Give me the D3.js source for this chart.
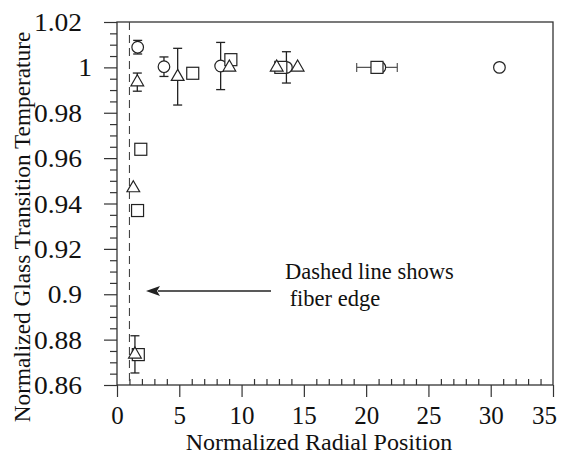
<!DOCTYPE html>
<html><head><meta charset="utf-8">
<script src="https://cdn.jsdelivr.net/npm/d3@7"></script>
<style>body{margin:0;background:#fff}svg{display:block}text{font-family:"Liberation Serif",serif;fill:#111}</style>
</head><body><svg id="c" width="565" height="454"></svg>
<script>
// ---- data ----
const circleX   = [1.66, 3.77, 8.32, 13.6, 21.1, 30.7];
const circleY   = [1.0089, 1.0003, 1.0006, 1.0, 1.0, 1.0];
const circleErr = [0.003, 0.0043, 0.0104, 0.0069, 0, 0];
const triX   = [1.63, 4.87, 9.02, 12.82, 14.5, 1.31, 1.44];
const triY   = [0.9935, 0.9959, 1.0, 1.0, 1.0, 0.9468, 0.8735];
const triErr = [0.004, 0.0125, 0, 0, 0, 0, 0.0082];
const sqX   = [1.91, 1.65, 1.71, 6.08, 9.14, 13.15, 20.87];
const sqY   = [0.9639, 0.9369, 0.8734, 0.9974, 1.0034, 1.0, 1.0];
const sqXErr = [0, 0, 0, 0, 0, 0, 1.63];
const xTicks = [0, 5, 10, 15, 20, 25, 30, 35];
const yTicks = [0.86, 0.88, 0.9, 0.92, 0.94, 0.96, 0.98, 1, 1.02];
const edgeX = 1;
const annotation = ["Dashed line shows", " fiber edge"];
const xTitle = "Normalized Radial Position";
const yTitle = "Normalized Glass Transition Temperature";

// ---- chart ----
const svg = d3.select("#c");
const L = 117, R = 553, T = 22, B = 385;
const x = d3.scaleLinear().domain([0, 35]).range([L, R]);
const y = d3.scaleLinear().domain([0.86, 1.02]).range([B, T]);
const ink = "#222";
const serif = "Liberation Serif";

// frame
svg.append("rect").attr("x", L).attr("y", T).attr("width", R - L).attr("height", B - T)
  .attr("fill", "none").attr("stroke", "#333").attr("stroke-width", 1.3);

// y axis
const yMinor = d3.range(0.86, 1.0201, 0.005).filter(v => !yTicks.some(t => Math.abs(t - v) < 1e-6));
const yMinAx = svg.append("g").attr("transform", `translate(${L},0)`)
  .call(d3.axisLeft(y).tickValues(yMinor).tickSize(7).tickFormat(""));
const yAx = svg.append("g").attr("transform", `translate(${L},0)`)
  .call(d3.axisLeft(y).tickValues(yTicks).tickSize(13).tickPadding(22).tickFormat(d => d3.format("~g")(d)));
// x axis
const xMinor = d3.range(0, 35.01, 1).filter(v => !xTicks.includes(v));
const xMinAx = svg.append("g").attr("transform", `translate(0,${B})`)
  .call(d3.axisTop(x).tickValues(xMinor).tickSize(6).tickFormat(""));
const xAx = svg.append("g").attr("transform", `translate(0,${B})`)
  .call(d3.axisBottom(x).tickValues(xTicks).tickSize(12).tickPadding(8));
[yMinAx, yAx, xMinAx, xAx].forEach(g => {
  g.attr("font-family", serif).attr("font-size", 25).attr("text-anchor", "start");
  g.select(".domain").remove();
  g.selectAll("line").attr("stroke", "#333").attr("stroke-width", 1.2);
  g.selectAll("text").attr("fill", "#111").style("font-family", serif)
    .style("font-size", "25px").style("text-anchor", "start");
});
yAx.selectAll("text").each(function (d) {
  const w = this.getComputedTextLength() * 1.1;
  this.setAttribute("textLength", w);
  this.setAttribute("lengthAdjust", "spacingAndGlyphs");
  const right = Math.abs(d - 1) < 1e-9 ? -25 : -35;
  this.setAttribute("x", right - w);
  this.setAttribute("dy", "0.34em");
});
xAx.selectAll("text").each(function (d) {
  const w = this.getComputedTextLength();
  this.setAttribute("x", (d === 35 ? -9 : 0) - w / 2);
  this.setAttribute("y", 39);
  this.removeAttribute("dy");
});

// titles
svg.append("text").attr("x", 319).attr("y", 450).attr("text-anchor", "middle")
  .attr("font-size", 24).text(xTitle);
svg.append("text").attr("transform", `translate(30,${(T + 432) / 2}) rotate(-90)`)
  .attr("text-anchor", "middle").attr("font-size", 23.3).text(yTitle);

// dashed fiber edge
svg.append("line").attr("x1", x(edgeX)).attr("x2", x(edgeX)).attr("y1", T).attr("y2", B)
  .attr("stroke", "#444").attr("stroke-width", 1.1).attr("stroke-dasharray", "8,5");

// annotation
svg.append("text").attr("x", 285).attr("y", 279).attr("font-size", 22.5).text(annotation[0]);
svg.append("text").attr("x", 284).attr("y", 306).attr("font-size", 22.5).attr("xml:space", "preserve").text(annotation[1]);
svg.append("line").attr("x1", 271).attr("x2", 158).attr("y1", 291).attr("y2", 291)
  .attr("stroke", ink).attr("stroke-width", 1.3);
svg.append("path").attr("d", "M146,291 L160,286 L157,291 L160,296 Z").attr("fill", ink);

const g = svg.append("g");
function vErr(xs, ys, es) {
  xs.forEach((xv, i) => {
    if (!es[i]) return;
    const cx = x(xv), y1 = y(ys[i] + es[i]), y2 = y(ys[i] - es[i]);
    g.append("line").attr("x1", cx).attr("x2", cx).attr("y1", y1).attr("y2", y2).attr("stroke", ink).attr("stroke-width", 1.3);
    [y1, y2].forEach(yy => g.append("line").attr("x1", cx - 4.5).attr("x2", cx + 4.5).attr("y1", yy).attr("y2", yy).attr("stroke", ink).attr("stroke-width", 1.3));
  });
}
vErr(circleX, circleY, circleErr);
vErr(triX, triY, triErr);
sqX.forEach((xv, i) => {
  if (!sqXErr[i]) return;
  const cy = y(sqY[i]), x1 = x(xv - sqXErr[i]), x2 = x(xv + sqXErr[i]);
  g.append("line").attr("x1", x1).attr("x2", x2).attr("y1", cy).attr("y2", cy).attr("stroke", "#555").attr("stroke-width", 1.2);
  [x1, x2].forEach(xx => g.append("line").attr("x1", xx).attr("x2", xx).attr("y1", cy - 4.5).attr("y2", cy + 4.5).attr("stroke", "#555").attr("stroke-width", 1.2));
});
circleX.forEach((xv, i) => g.append("circle").attr("cx", x(xv)).attr("cy", y(circleY[i])).attr("r", 5.8)
  .attr("fill", "#fff").attr("stroke", ink).attr("stroke-width", 1.2));
sqX.forEach((xv, i) => g.append("rect").attr("x", x(xv) - 6).attr("y", y(sqY[i]) - 6).attr("width", 12).attr("height", 12)
  .attr("fill", "#fff").attr("stroke", ink).attr("stroke-width", 1.2));
const tri = d3.symbol().type(d3.symbolTriangle).size(70);
triX.forEach((xv, i) => g.append("path").attr("d", tri())
  .attr("transform", `translate(${x(xv)},${y(triY[i])})`)
  .attr("fill", "#fff").attr("stroke", ink).attr("stroke-width", 1.2));
</script></body></html>
